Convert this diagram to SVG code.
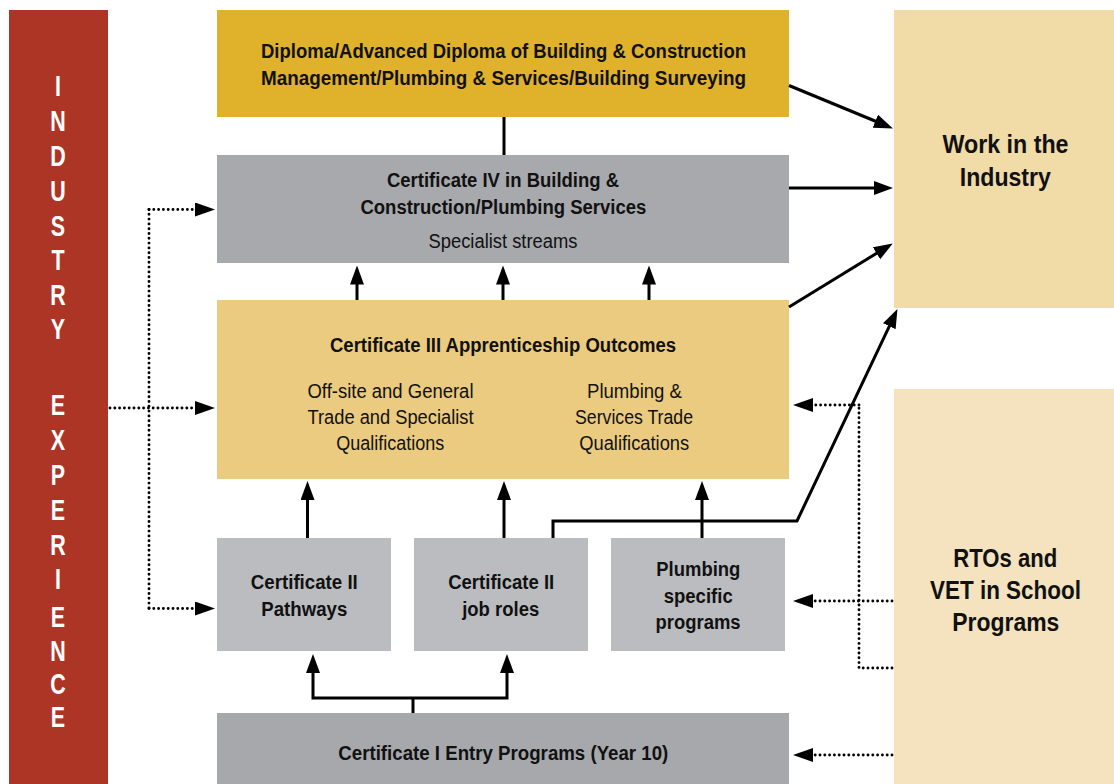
<svg xmlns="http://www.w3.org/2000/svg" width="1114" height="784" viewBox="0 0 1114 784">
  <defs>
    <marker id="head" markerUnits="userSpaceOnUse" markerWidth="20" markerHeight="15" refX="14" refY="7" orient="auto">
      <path d="M0,0 L19,7 L0,14 z" fill="#000"/>
    </marker>
    <marker id="headDot" markerUnits="userSpaceOnUse" markerWidth="21" markerHeight="15" refX="15" refY="7" orient="auto">
      <path d="M0,0 L20,7 L0,14 z" fill="#000"/>
    </marker>
  </defs>
  <style>
    text { font-family: "Liberation Sans", Arial, sans-serif; fill: #111; text-anchor: middle; }
    .b { font-weight: bold; font-size: 20px; }
    .r { font-size: 20px; }
    .big { font-weight: bold; font-size: 25px; }
    .side text { fill: #fff; font-size: 29px; font-weight: bold; }
    .solid { fill: none; stroke: #000; stroke-width: 3; }
    .arrow { marker-end: url(#head); }
    .dots { fill: none; stroke: #000; stroke-width: 2.9; stroke-linecap: round; stroke-dasharray: 0 4.8; }
    .darrow { marker-end: url(#headDot); }
  </style>
  <rect width="1114" height="784" fill="#fff"/>

  <!-- vertical side banner -->
  <g id="industry-experience" class="side">
    <rect x="9" y="10" width="99" height="774" fill="#AD3526"/>
    <g transform="translate(58,0) scale(0.74,1)">
      <text x="0" y="96">I</text>
      <text x="0" y="131.5">N</text>
      <text x="0" y="166.5">D</text>
      <text x="0" y="201.5">U</text>
      <text x="0" y="236.5">S</text>
      <text x="0" y="270.5">T</text>
      <text x="0" y="305">R</text>
      <text x="0" y="339.5">Y</text>
      <text x="0" y="415">E</text>
      <text x="0" y="450">X</text>
      <text x="0" y="485">P</text>
      <text x="0" y="520">E</text>
      <text x="0" y="555">R</text>
      <text x="0" y="589">I</text>
      <text x="0" y="627">E</text>
      <text x="0" y="661">N</text>
      <text x="0" y="694">C</text>
      <text x="0" y="727">E</text>
    </g>
  </g>

  <g id="diploma">
    <rect x="217" y="10" width="572" height="107" fill="#E0B22B"/>
    <text class="b" x="503.5" y="58" textLength="485" lengthAdjust="spacingAndGlyphs">Diploma/Advanced Diploma of Building &amp; Construction</text>
    <text class="b" x="503.5" y="85" textLength="485" lengthAdjust="spacingAndGlyphs">Management/Plumbing &amp; Services/Building Surveying</text>
  </g>

  <g id="cert-iv">
    <rect x="217" y="155" width="572" height="108" fill="#A8A9AD"/>
    <text class="b" x="503" y="187" textLength="232" lengthAdjust="spacingAndGlyphs">Certificate IV in Building &amp;</text>
    <text class="b" x="503.4" y="214" textLength="286" lengthAdjust="spacingAndGlyphs">Construction/Plumbing Services</text>
    <text class="r" x="503" y="247.5" textLength="149" lengthAdjust="spacingAndGlyphs">Specialist streams</text>
  </g>

  <g id="cert-iii">
    <rect x="217" y="300" width="572" height="179" fill="#EBCB7F"/>
    <text class="b" x="503" y="351.5" textLength="346" lengthAdjust="spacingAndGlyphs">Certificate III Apprenticeship Outcomes</text>
    <text class="r" x="390.5" y="397.5" textLength="166" lengthAdjust="spacingAndGlyphs">Off-site and General</text>
    <text class="r" x="390.5" y="423.5" textLength="166" lengthAdjust="spacingAndGlyphs">Trade and Specialist</text>
    <text class="r" x="390.3" y="450" textLength="108" lengthAdjust="spacingAndGlyphs">Qualifications</text>
    <text class="r" x="634.5" y="397.5" textLength="95" lengthAdjust="spacingAndGlyphs">Plumbing &amp;</text>
    <text class="r" x="634" y="423.5" textLength="118" lengthAdjust="spacingAndGlyphs">Services Trade</text>
    <text class="r" x="634.2" y="450" textLength="110" lengthAdjust="spacingAndGlyphs">Qualifications</text>
  </g>

  <g id="cert-ii-pathways">
    <rect x="217" y="538" width="174" height="113" fill="#BBBCC0"/>
    <text class="b" x="304.3" y="589" textLength="107" lengthAdjust="spacingAndGlyphs">Certificate II</text>
    <text class="b" x="304.3" y="615.5" textLength="86" lengthAdjust="spacingAndGlyphs">Pathways</text>
  </g>

  <g id="cert-ii-job-roles">
    <rect x="414" y="538" width="174" height="113" fill="#BBBCC0"/>
    <text class="b" x="501.2" y="589" textLength="106" lengthAdjust="spacingAndGlyphs">Certificate II</text>
    <text class="b" x="500.7" y="615.5" textLength="77" lengthAdjust="spacingAndGlyphs">job roles</text>
  </g>

  <g id="plumbing-programs">
    <rect x="611" y="538" width="174" height="113" fill="#BBBCC0"/>
    <text class="b" x="698.3" y="576" textLength="84" lengthAdjust="spacingAndGlyphs">Plumbing</text>
    <text class="b" x="698.2" y="602.5" textLength="69" lengthAdjust="spacingAndGlyphs">specific</text>
    <text class="b" x="698.1" y="628.5" textLength="85" lengthAdjust="spacingAndGlyphs">programs</text>
  </g>

  <g id="cert-i">
    <rect x="217" y="713" width="572" height="71" fill="#A7A8AC"/>
    <text class="b" x="503.3" y="760" textLength="330" lengthAdjust="spacingAndGlyphs">Certificate I Entry Programs (Year 10)</text>
  </g>

  <g id="work-industry">
    <rect x="894" y="10" width="220" height="298" fill="#F1DBA7"/>
    <text class="big" x="1005.5" y="153" textLength="126" lengthAdjust="spacingAndGlyphs">Work in the</text>
    <text class="big" x="1005.3" y="186" textLength="91" lengthAdjust="spacingAndGlyphs">Industry</text>
  </g>

  <g id="rtos-vet">
    <rect x="894" y="389" width="220" height="395" fill="#F4E3BE"/>
    <text class="big" x="1005.3" y="566.5" textLength="104" lengthAdjust="spacingAndGlyphs">RTOs and</text>
    <text class="big" x="1005.5" y="599.3" textLength="151" lengthAdjust="spacingAndGlyphs">VET in School</text>
    <text class="big" x="1005.8" y="631" textLength="107" lengthAdjust="spacingAndGlyphs">Programs</text>
  </g>

  <g id="connectors">
    <!-- diploma to certificate IV -->
    <line class="solid" x1="504" y1="117" x2="504" y2="155"/>
    <!-- certificate III up to certificate IV -->
    <line class="solid arrow" x1="357" y1="300" x2="357" y2="270.5"/>
    <line class="solid arrow" x1="503" y1="300" x2="503" y2="270.5"/>
    <line class="solid arrow" x1="649" y1="300" x2="649" y2="270.5"/>
    <!-- certificate II level up to certificate III -->
    <line class="solid arrow" x1="307.5" y1="538" x2="307.5" y2="486"/>
    <line class="solid arrow" x1="504" y1="538" x2="504" y2="486"/>
    <line class="solid arrow" x1="702" y1="538" x2="702" y2="486"/>
    <!-- certificate I branching to certificate II -->
    <polyline class="solid" points="413,713 413,698"/>
    <polyline class="solid arrow" points="413,698 313,698 313,659"/>
    <polyline class="solid arrow" points="413,698 507,698 507,659"/>
    <!-- job roles straight to work -->
    <polyline class="solid arrow" points="553,538 553,521 797,521 895.3,313.6"/>
    <!-- outcomes to work in the industry -->
    <line class="solid arrow" x1="789" y1="85.5" x2="888.3" y2="126.5"/>
    <line class="solid arrow" x1="789" y1="188" x2="888" y2="188"/>
    <line class="solid arrow" x1="789" y1="307" x2="888.5" y2="246"/>

    <!-- industry experience feeds -->
    <line class="dots darrow" x1="110" y1="408" x2="210" y2="408"/>
    <line class="dots" x1="149" y1="209.5" x2="149" y2="608.5"/>
    <line class="dots darrow" x1="149" y1="209.5" x2="210" y2="209.5"/>
    <line class="dots darrow" x1="149" y1="608.5" x2="210" y2="608.5"/>

    <!-- RTO / VET in school feeds -->
    <line class="dots darrow" x1="892" y1="601" x2="798" y2="601"/>
    <polyline class="dots" points="892,668 859,668 859,405"/>
    <line class="dots darrow" x1="859" y1="405" x2="798" y2="405"/>
    <line class="dots darrow" x1="892" y1="755" x2="798" y2="755"/>
  </g>
</svg>
